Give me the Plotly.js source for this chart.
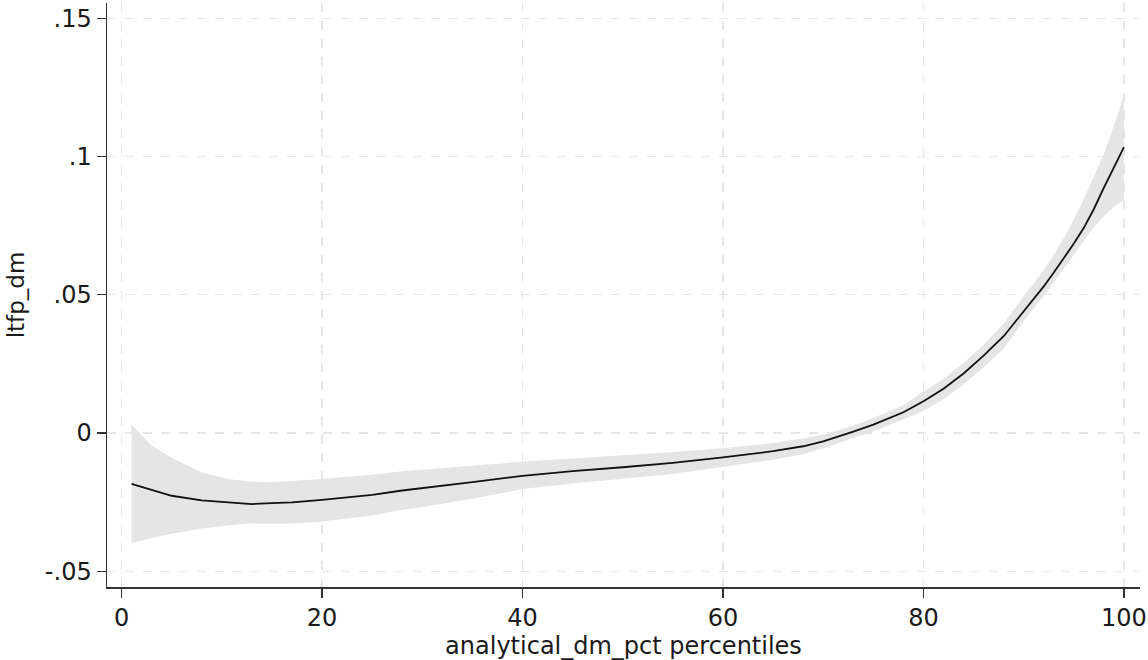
<!DOCTYPE html>
<html>
<head>
<meta charset="utf-8">
<script src="https://cdn.plot.ly/plotly-3.0.1.min.js"></script>
<style>html,body{margin:0;padding:0;background:#fff;}#chart{width:1148px;height:660px;}</style>
</head>
<body>
<div id="chart"></div>
<script>
// Percentile positions
const pct = [1,3,5,8,11,13,15,17,20,23,25,28,30,35,40,45,50,55,60,65,68,70,73,75,78,80,82,84,86,88,90,91,92,93,94,95,96,97,98,99,100];
// Fitted ltfp_dm
const fitted = [-0.0184,-0.0206,-0.0227,-0.0244,-0.0252,-0.0257,-0.0254,-0.0251,-0.0242,-0.0232,-0.0224,-0.0208,-0.0200,-0.0178,-0.0155,-0.0138,-0.0124,-0.0108,-0.0088,-0.0066,-0.0048,-0.0030,0.0005,0.0030,0.0075,0.0115,0.0160,0.0215,0.0280,0.0350,0.0440,0.0485,0.0530,0.0580,0.0632,0.0685,0.0742,0.0810,0.0887,0.0960,0.1034];
// Upper confidence bound
const upper = [0.0029,-0.0045,-0.0090,-0.0143,-0.0168,-0.0176,-0.0177,-0.0174,-0.0166,-0.0157,-0.0151,-0.0138,-0.0132,-0.0118,-0.0104,-0.0092,-0.0081,-0.0069,-0.0055,-0.0036,-0.0020,-0.0006,0.0027,0.0054,0.0100,0.0150,0.0195,0.0253,0.0320,0.0395,0.0495,0.0540,0.0590,0.0645,0.0705,0.0772,0.0845,0.0925,0.1010,0.1112,0.1222];
// Lower confidence bound
const lower = [-0.0399,-0.0380,-0.0364,-0.0345,-0.0333,-0.0327,-0.0328,-0.0327,-0.0320,-0.0308,-0.0298,-0.0278,-0.0268,-0.0238,-0.0203,-0.0183,-0.0166,-0.0148,-0.0122,-0.0097,-0.0077,-0.0055,-0.0018,0.0006,0.0050,0.0080,0.0122,0.0175,0.0238,0.0305,0.0405,0.0450,0.0495,0.0545,0.0595,0.0645,0.0695,0.0745,0.0785,0.0818,0.0842];
// Tick labels
const xTickVals = [0,20,40,60,80,100];
const xTickText = ['0','20','40','60','80','100'];
const yTickVals = [-0.05,0,0.05,0.1,0.15];
const yTickText = ['-.05','0','.05','.1','.15'];

const tickFont = {family: 'DejaVu Sans, sans-serif', size: 24, color: '#1a1a1a'};
const xTitleFont = {family: 'DejaVu Sans, sans-serif', size: 24, color: '#1a1a1a'};
const yTitleFont = {family: 'DejaVu Sans, sans-serif', size: 23, color: '#1a1a1a'};

const traces = [
  {x: pct, y: lower, type: 'scatter', mode: 'lines', line: {width: 0, color: 'rgba(0,0,0,0)'}, hoverinfo: 'skip', showlegend: false},
  {x: pct, y: upper, type: 'scatter', mode: 'lines', fill: 'tonexty', fillcolor: '#e5e5e5', line: {width: 0, color: 'rgba(0,0,0,0)'}, showlegend: false},
  {x: pct, y: fitted, type: 'scatter', mode: 'lines', line: {color: '#111', width: 1.8}, showlegend: false}
];

const layout = {
  width: 1148, height: 660,
  margin: {l: 107, r: 8, t: 3, b: 73},
  paper_bgcolor: '#fff', plot_bgcolor: '#fff',
  font: tickFont,
  showlegend: false,
  xaxis: {
    range: [-1.45, 101.6],
    tickvals: xTickVals, ticktext: xTickText,
    ticks: 'outside', ticklen: 9, tickwidth: 1.3, tickcolor: '#333',
    showline: true, linecolor: '#333', linewidth: 1.5,
    showgrid: true, gridcolor: '#e6e6e6', gridwidth: 1.2, griddash: 'dash',
    zeroline: false, automargin: false,
    tickfont: tickFont,
    title: {text: 'analytical_dm_pct percentiles', font: xTitleFont, standoff: 7}
  },
  yaxis: {
    range: [-0.0557, 0.1555],
    tickvals: yTickVals, ticktext: yTickText,
    ticks: 'outside', ticklen: 9, tickwidth: 1.3, tickcolor: '#333',
    showline: true, linecolor: '#333', linewidth: 1.5,
    showgrid: true, gridcolor: '#e6e6e6', gridwidth: 1.2, griddash: 'dash',
    zeroline: false, automargin: false,
    tickfont: tickFont,
    title: {text: 'ltfp_dm', font: yTitleFont, standoff: 14}
  }
};

Plotly.newPlot('chart', traces, layout, {displayModeBar: false, staticPlot: true});
</script>
</body>
</html>
